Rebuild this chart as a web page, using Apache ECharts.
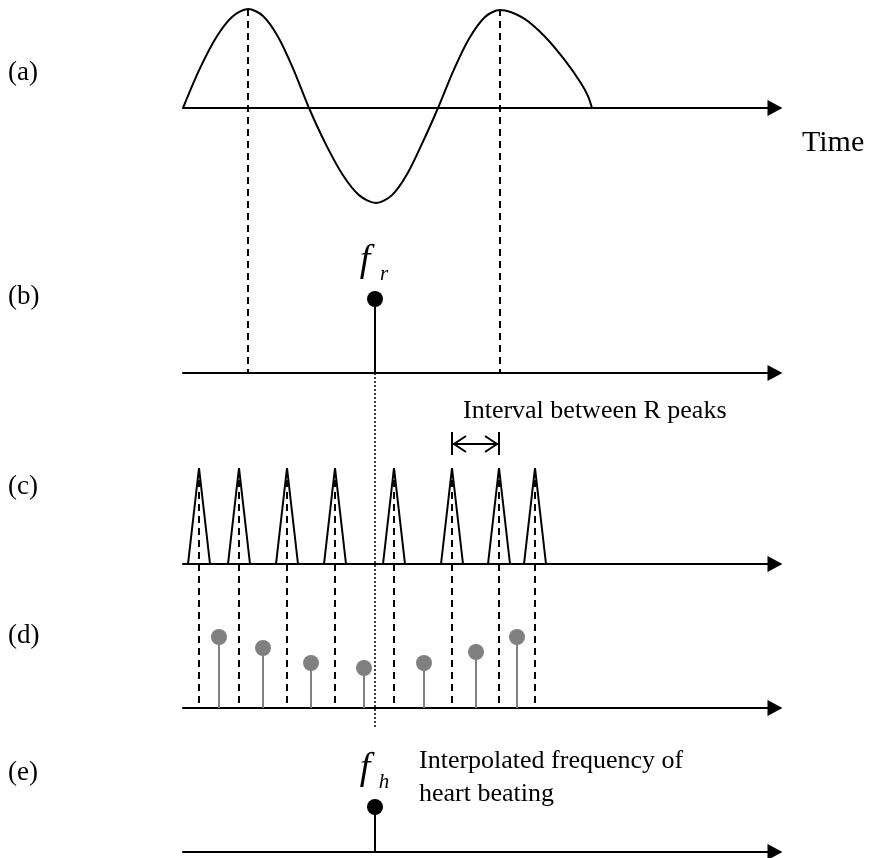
<!DOCTYPE html>
<html>
<head>
<meta charset="utf-8">
<script src="https://cdn.jsdelivr.net/npm/echarts@6/dist/echarts.min.js"></script>
<style>
  html, body { margin: 0; background: #fff; }
  #chart { width: 871px; height: 858px; }
</style>
</head>
<body>
<div id="chart"></div>
<script>
// (a) respiration signal (time axis in px from the axis start)
const respT = [0, 16, 33, 49, 65, 80, 95, 110, 126, 143, 160, 176, 193, 209, 224, 240, 255, 271, 286, 302, 317, 340, 362, 382, 398, 405, 409];
const respV = [0, 0.38, 0.71, 0.92, 1, 0.93, 0.72, 0.40, 0, -0.37, -0.68, -0.88, -0.96, -0.88, -0.67, -0.34, 0, 0.39, 0.70, 0.92, 0.99, 0.91, 0.72, 0.48, 0.25, 0.12, 0];
const respPeakT = [65, 317];
// (b) respiration frequency
const frT = [192];
const frV = [1];
// (c) R peaks
const rPeakT = [16, 56, 104, 152, 211, 269, 316, 352];
const rPeakV = [1, 1, 1, 1, 1, 1, 1, 1];
// (d) instantaneous heart rate samples
const hrT = [36, 80, 128, 181, 241, 293, 334];
const hrV = [71, 60, 45, 40, 45, 56, 71];
// (e) interpolated heart frequency
const fhT = [192];
const fhV = [1];
const intervalT = [269, 316];
const panelLabels = ['(a)', '(b)', '(c)', '(d)', '(e)'];

const SERIF = '"Liberation Serif", "Times New Roman", serif';
const labelY = [73, 297, 487, 636, 773];

// one grid per panel, same time axis
const panels = [
  { top: 9, height: 198, min: -1, max: 1 },
  { top: 299, height: 74, min: 0, max: 1 },
  { top: 468, height: 96, min: 0, max: 1 },
  { top: 608, height: 100, min: 0, max: 100 },
  { top: 807, height: 45, min: 0, max: 1 }
];

const chart = echarts.init(document.getElementById('chart'));

function txt(x, y, text, font, align) {
  return {
    type: 'text', x: x, y: y, z: 20,
    style: {
      text: text, font: font, fill: '#000',
      align: align || 'left', textAlign: align || 'left',
      verticalAlign: 'middle', textVerticalAlign: 'middle'
    }
  };
}

// stem with a ball on top, optional f_x label
function stem(color, sub) {
  return function (params, api) {
    const top = api.coord([api.value(0), api.value(1)]);
    const base = api.coord([api.value(0), 0]);
    const kids = [
      { type: 'line', shape: { x1: base[0], y1: base[1], x2: top[0], y2: top[1] },
        style: { stroke: color, lineWidth: 2 } },
      { type: 'circle', shape: { cx: top[0], cy: top[1], r: 8 }, style: { fill: color } }
    ];
    if (sub) {
      kids.push(txt(top[0] - 10, top[1] - 38, 'f', 'italic 38px ' + SERIF, 'center'));
      kids.push(txt(top[0] + 9, top[1] - 25, sub, 'italic 21px ' + SERIF, 'center'));
    }
    return { type: 'group', children: kids };
  };
}

const option = {
  animation: false,
  backgroundColor: '#fff',
  grid: panels.map(p => ({ left: 183, right: 96, top: p.top, height: p.height, containLabel: false, outerBoundsMode: 'none' })),
  xAxis: panels.map((p, i) => ({
    type: 'value', gridIndex: i, min: 0, max: 592,
    axisLine: { show: true, onZero: true, symbol: ['none', 'triangle'], symbolSize: [16, 15],
      lineStyle: { color: '#000', width: 2 } },
    axisTick: { show: false }, axisLabel: { show: false }, splitLine: { show: false }
  })),
  yAxis: panels.map((p, i) => ({
    type: 'value', gridIndex: i, min: p.min, max: p.max, show: false,
    splitLine: { show: false }
  })),
  series: [
    {
      type: 'line', xAxisIndex: 0, yAxisIndex: 0,
      data: respT.map((t, i) => [t, respV[i]]),
      smooth: 0.3, symbol: 'none',
      lineStyle: { color: '#000', width: 2 }
    },
    {
      type: 'custom', xAxisIndex: 1, yAxisIndex: 1,
      data: frT.map((t, i) => [t, frV[i]]),
      renderItem: stem('#000', 'r')
    },
    {
      type: 'custom', xAxisIndex: 2, yAxisIndex: 2,
      data: rPeakT.map((t, i) => [t, rPeakV[i]]),
      renderItem: function (params, api) {
        const apex = api.coord([api.value(0), api.value(1)]);
        const base = api.coord([api.value(0), 0]);
        return {
          type: 'polyline',
          shape: { points: [[base[0] - 11, base[1]], apex, [base[0] + 11, base[1]]] },
          style: { stroke: '#000', lineWidth: 2, fill: null, lineJoin: 'bevel' }
        };
      }
    },
    {
      type: 'custom', xAxisIndex: 3, yAxisIndex: 3,
      data: hrT.map((t, i) => [t, hrV[i]]),
      renderItem: stem('#808080')
    },
    {
      type: 'custom', xAxisIndex: 4, yAxisIndex: 4,
      data: fhT.map((t, i) => [t, fhV[i]]),
      renderItem: stem('#000', 'h')
    }
  ]
};
chart.setOption(option);

// lines and texts that cross the panels
const px = (g, p) => chart.convertToPixel({ gridIndex: g }, p);
const dash = (a, b, ld, w) => ({
  type: 'line', z: 5, silent: true,
  shape: { x1: a[0], y1: a[1], x2: b[0], y2: b[1] },
  style: { stroke: '#000', lineWidth: w || 2, lineDash: ld || [7, 5] }
});
const graphics = [];
respPeakT.forEach(t => graphics.push(dash(px(0, [t, 1]), px(1, [t, 0]))));
rPeakT.forEach(t => graphics.push(dash(px(2, [t, 1]), px(3, [t, 0]))));
// dotted guide from f_r down to f_h
const dTop = px(1, [frT[0], 0]);
const dBot = px(4, [fhT[0], 1]);
graphics.push(dash(dTop, [dBot[0], dBot[1] - 79], [2, 2], 1.5));

// interval marker between two R peaks
const i1 = px(2, [intervalT[0], 1]);
const i2 = px(2, [intervalT[1], 1]);
const iy = i1[1] - 24;
const seg = (x1, y1, x2, y2) => ({ type: 'line', z: 6, shape: { x1, y1, x2, y2 }, style: { stroke: '#000', lineWidth: 2 } });
graphics.push(seg(i1[0], iy - 12, i1[0], iy + 11));
graphics.push(seg(i2[0], iy - 12, i2[0], iy + 11));
graphics.push(seg(i1[0] + 1, iy, i2[0] - 1, iy));
graphics.push({ type: 'polyline', z: 6, shape: { points: [[i1[0] + 14, iy - 8], [i1[0] + 2, iy], [i1[0] + 14, iy + 8]] }, style: { stroke: '#000', lineWidth: 2, fill: null } });
graphics.push({ type: 'polyline', z: 6, shape: { points: [[i2[0] - 14, iy - 8], [i2[0] - 2, iy], [i2[0] - 14, iy + 8]] }, style: { stroke: '#000', lineWidth: 2, fill: null } });
graphics.push(txt(i1[0] + 11, iy - 33, 'Interval between R peaks', '26px ' + SERIF));

// annotation next to f_h
const fh = px(4, [fhT[0], fhV[0]]);
graphics.push(txt(fh[0] + 44, fh[1] - 46, 'Interpolated frequency of', '26px ' + SERIF));
graphics.push(txt(fh[0] + 44, fh[1] - 13, 'heart beating', '26px ' + SERIF));

// panel letters and time label
panelLabels.forEach((l, i) => graphics.push(txt(8, labelY[i], l, '27px ' + SERIF)));
graphics.push(txt(802, 143, 'Time', '30px ' + SERIF));

chart.setOption({ graphic: graphics });
</script>
</body>
</html>
